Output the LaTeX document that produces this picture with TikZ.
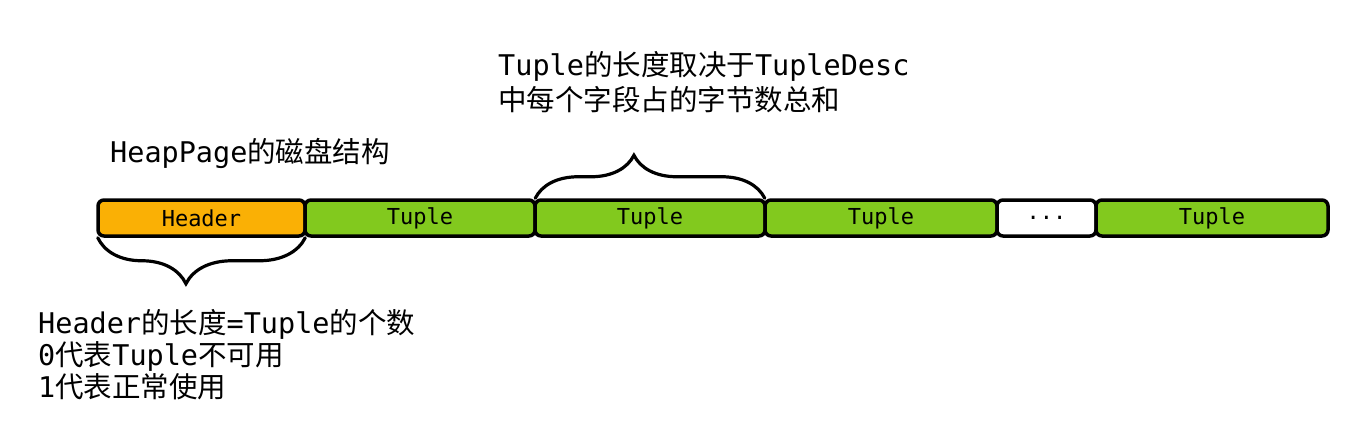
\documentclass[tikz,border=0pt]{standalone}
\usepackage{fontspec}
\setmonofont{DejaVu Sans Mono}
\newfontfamily\cjk{Noto Sans CJK SC}
\usetikzlibrary{decorations.pathreplacing}
\definecolor{hdrorange}{HTML}{FAB005}
\definecolor{tuplegreen}{HTML}{82C91E}
\newcommand{\zh}[1]{{\cjk #1}}
\tikzset{
  cell/.style={draw=black,line width=3.5pt,rounded corners=6pt,minimum height=36pt,
    inner sep=0pt,font=\ttfamily\fontsize{22}{22}\selectfont},
  note/.style={align=left,inner sep=0pt,font=\ttfamily\fontsize{28.5}{32}\selectfont},
  bracepath/.style={line width=3.2pt,line cap=round,decorate}
}
\begin{document}
\begin{tikzpicture}[x=1pt,y=-1pt]
\useasboundingbox (0,0) rectangle (1359,442);

% boxes of the page
\node[cell,fill=hdrorange,minimum width=207pt] at (201.5,218) (h) {Header};
\node[cell,fill=tuplegreen,minimum width=230pt] at (420,218) (t1) {Tuple};
\node[cell,fill=tuplegreen,minimum width=230pt] at (650,218) (t2) {Tuple};
\node[cell,fill=tuplegreen,minimum width=232pt] at (881,218) (t3) {Tuple};
\node[cell,fill=white,minimum width=99pt] at (1046.5,218) (d) {...};
\node[cell,fill=tuplegreen,minimum width=232pt] at (1212,218) (t4) {Tuple};

% braces
\draw[bracepath,decoration={brace,amplitude=46pt,aspect=0.575}]
  ([xshift=-1.5pt]h.south east) -- ([xshift=1.5pt]h.south west);
\draw[bracepath,decoration={brace,amplitude=43pt,aspect=0.43}]
  ([xshift=2pt]t2.north west) -- ([xshift=-2pt]t2.north east);

% texts
\node[note,anchor=base west] at (110,162) (title) {HeapPage\zh{的磁盘结构}};
\node[note,anchor=base west] at (498,75) (tl1) {Tuple\zh{的长度取决于}TupleDesc};
\node[note,anchor=base west] at (498,110) (tl2) {\zh{中每个字段占的字节数总和}};
\node[note,anchor=base west] at (38,333) (hl1) {Header\zh{的长度}=Tuple\zh{的个数}};
\node[note,anchor=base west] at (38,365) (hl2) {0\zh{代表}Tuple\zh{不可用}};
\node[note,anchor=base west] at (38,397) (hl3) {1\zh{代表正常使用}};
\end{tikzpicture}
\end{document}
